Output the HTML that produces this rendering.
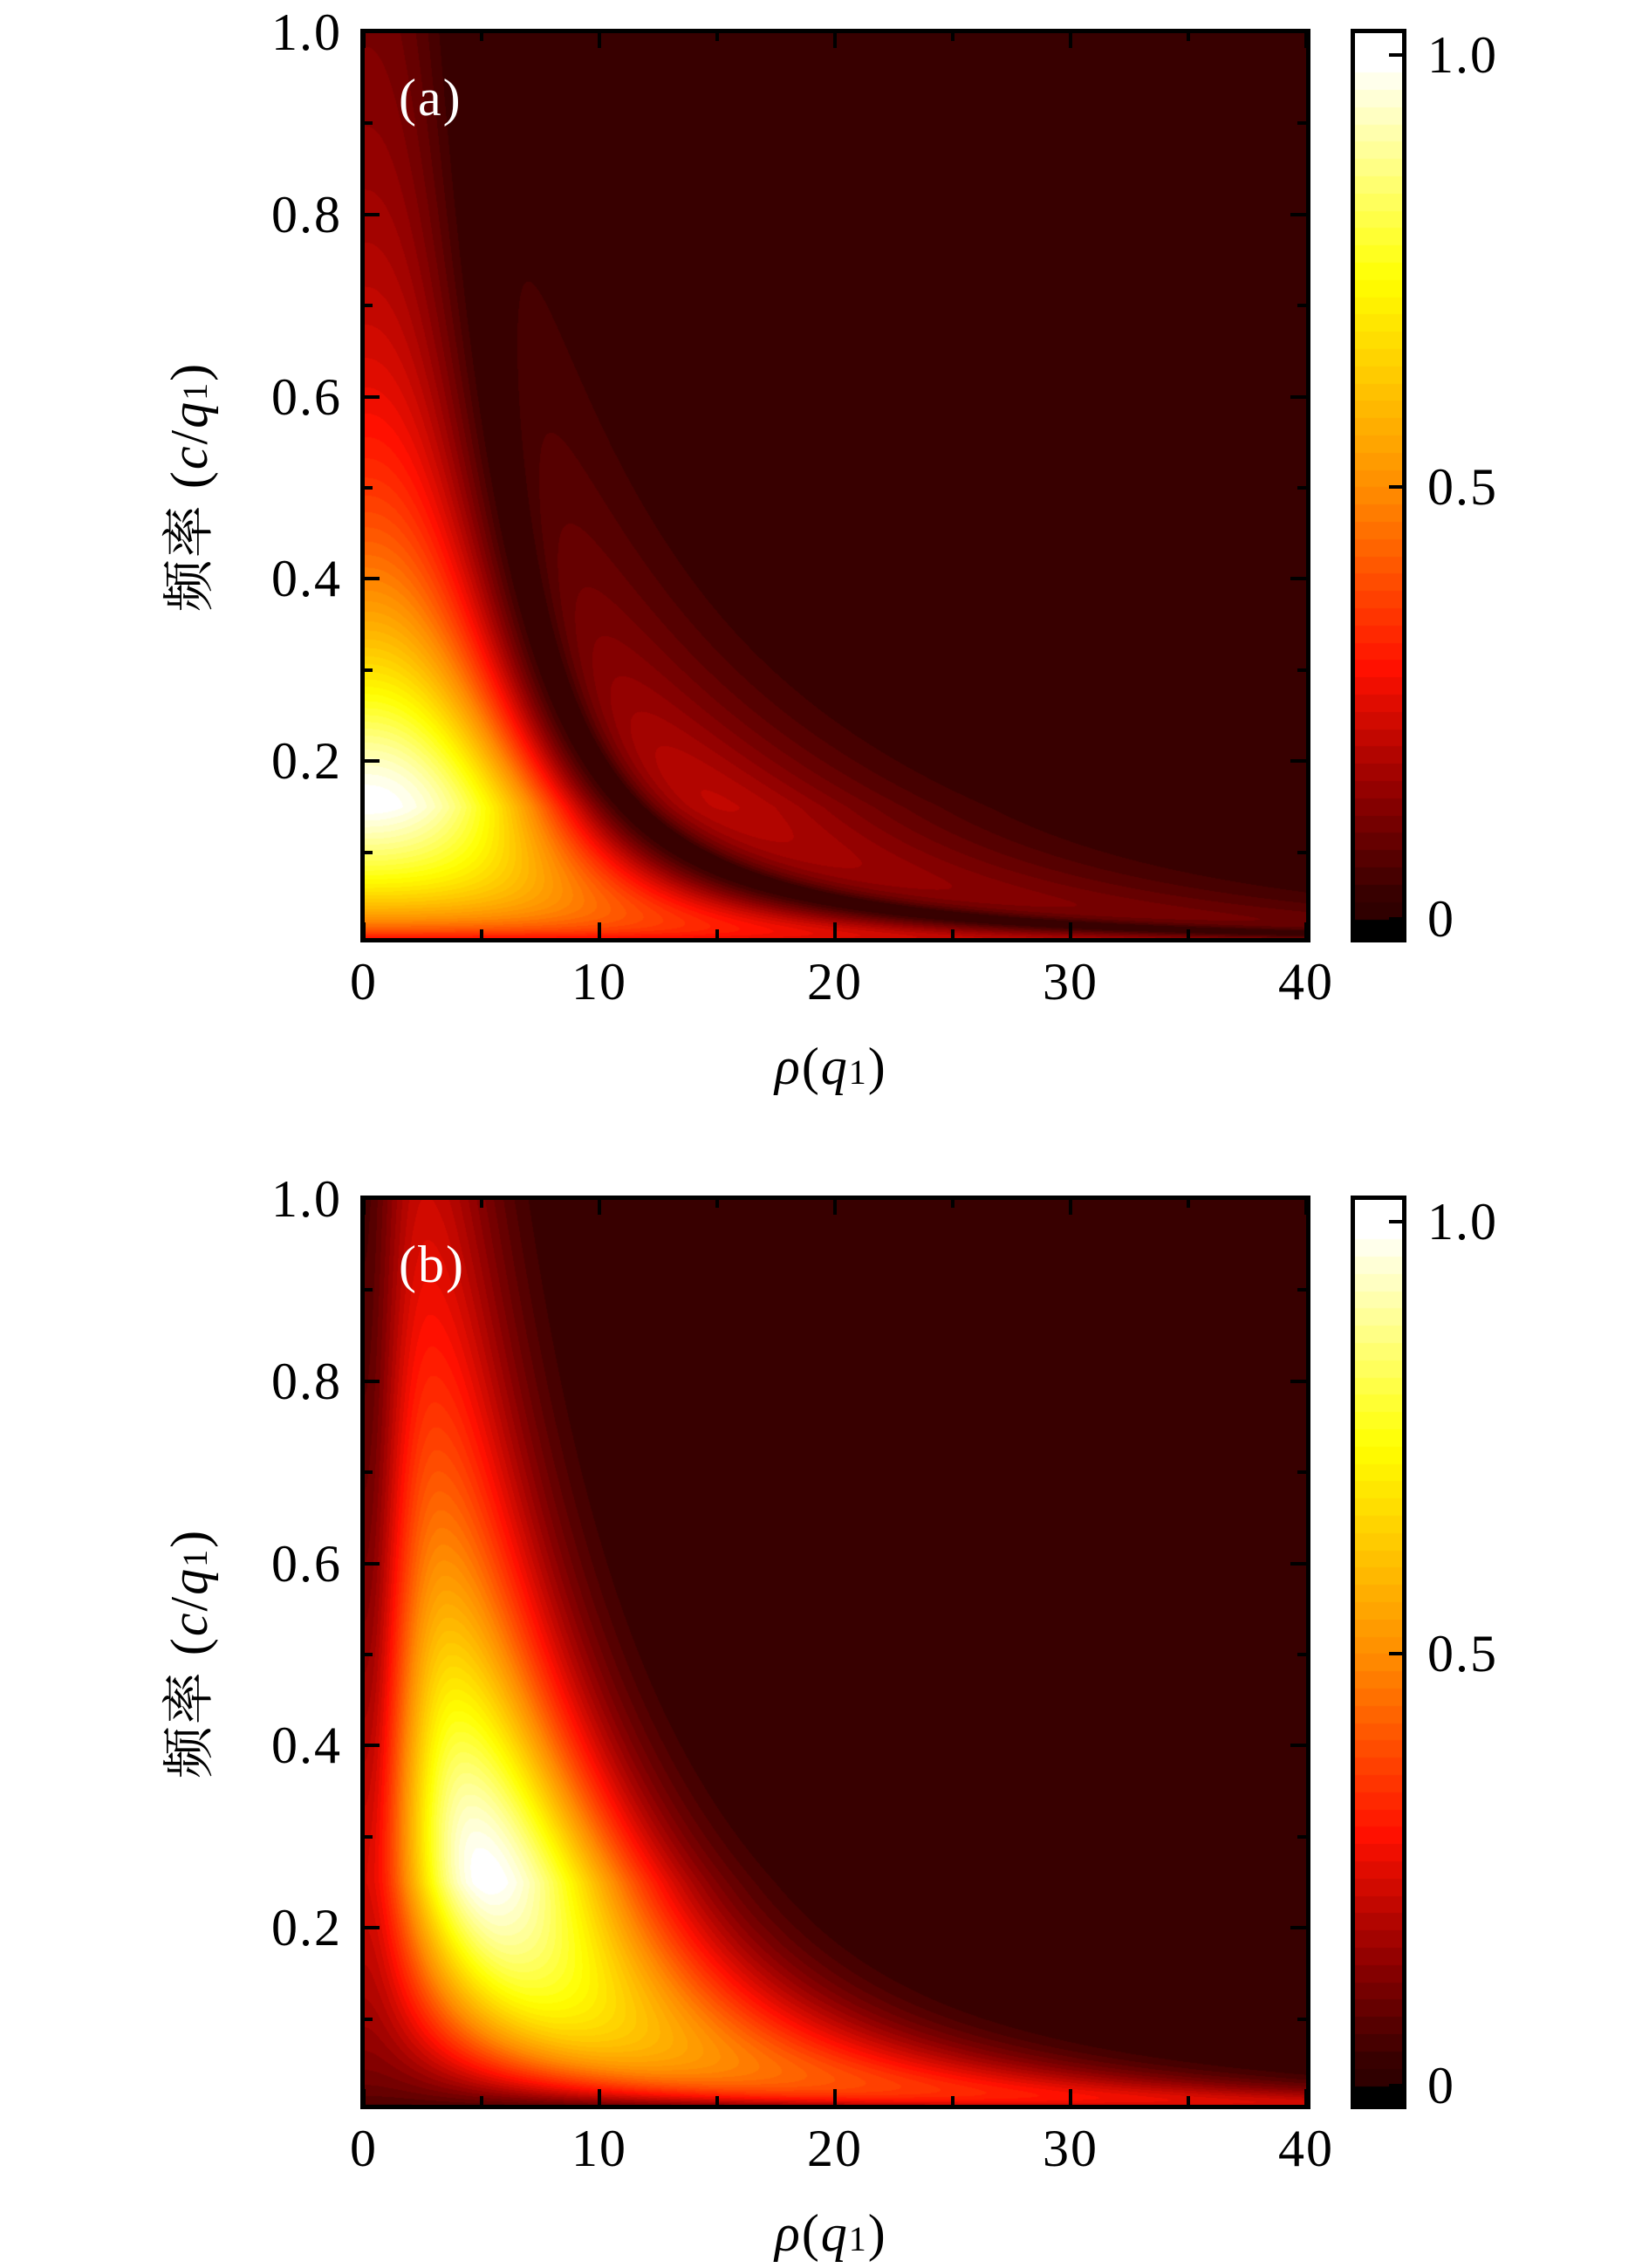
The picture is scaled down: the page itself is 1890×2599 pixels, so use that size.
<!DOCTYPE html>
<html><head><meta charset="utf-8"><style>
html,body{margin:0;padding:0;background:#fff;}
body{width:1890px;height:2599px;position:relative;overflow:hidden;font-family:"Liberation Serif","Noto Serif CJK SC",serif;}
canvas{position:absolute;}
.t{position:absolute;font-size:60px;line-height:1;color:#000;white-space:nowrap;letter-spacing:2px;}
.frame{position:absolute;border:5px solid #000;box-sizing:border-box;}
.tick{position:absolute;background:#000;}
</style></head><body>
<canvas id="pa" width="1080" height="1038" style="left:417px;top:37px"></canvas>
<canvas id="pb" width="1080" height="1038" style="left:417px;top:1374px"></canvas>
<canvas id="ca" width="56" height="1038" style="left:1552px;top:37px"></canvas>
<canvas id="cb" width="56" height="1038" style="left:1552px;top:1374px"></canvas>
<div id="ov"></div>
<script>
const stops=[[0,[0,0,0]],[0.03,[48,0,0]],[0.15,[140,0,0]],[0.3,[255,16,0]],[0.5,[255,136,0]],[0.75,[255,255,0]],[1,[255,255,255]]];
function cmap(t){t=Math.max(0,Math.min(1,t));for(let i=1;i<stops.length;i++){if(t<=stops[i][0]){const a=stops[i-1],b=stops[i];const s=(t-a[0])/(b[0]-a[0]);return [0,1,2].map(k=>a[1][k]+(b[1][k]-a[1][k])*s);}}return [255,255,255];}
const L=50;function q(v){v=Math.max(0.03,Math.min(1,v));return Math.ceil(v*L)/L;}
function I0f(x,p){return x<1?Math.pow(x,0.4):Math.pow(2*x/(1+x*x),p);}
function Ia(r,f){const I0=I0f(f/0.15,1.75);const u=r*Math.sqrt(f)/4.5;let g;
 if(u<1){g=Math.pow(1-Math.pow(u,2.3),0.9);}else{const w=(u-1)/0.32;g=0.45*Math.sqrt(w*Math.exp(1-w));}
 return I0*g*g;}
function Ib(r,f){const I0=I0f(f/0.25,2);const u2=r*r*f/7.29;const base=(u2+0.05)/1.05*Math.exp(1-u2);const h=u2<1?Math.pow(base,0.7):Math.pow(base,0.45);return I0*Math.min(1,h);}
function draw(id,fn){const c=document.getElementById(id),ctx=c.getContext('2d');const W=c.width,H=c.height;const im=ctx.createImageData(W,H);for(let y=0;y<H;y++){const f=1-(y/H)*(1-0.006);for(let xx=0;xx<W;xx++){const r=xx/W*40;const v=q(fn(r,f));const col=cmap(v);const o=(y*W+xx)*4;im.data[o]=col[0];im.data[o+1]=col[1];im.data[o+2]=col[2];im.data[o+3]=255;}}ctx.putImageData(im,0,0);}
draw('pa',Ia);draw('pb',Ib);
function cbar(id){const c=document.getElementById(id),ctx=c.getContext('2d');for(let y=0;y<c.height;y++){const v=(1053-37-y)/990;let col;if(v<0.0)col=[0,0,0];else col=cmap(Math.max(0.03,Math.ceil(v*L)/L));ctx.fillStyle=`rgb(${col.map(Math.round).join(',')})`;ctx.fillRect(0,y,c.width,1);}}
cbar('ca');cbar('cb');
let h='';
function panel(dy,lab){
 h+=`<div class="frame" style="left:413px;top:${dy+33}px;width:1089px;height:1047px"></div>`;
 h+=`<div class="frame" style="left:1548px;top:${dy+33}px;width:64px;height:1047px"></div>`;
 const xs=[0,10,20,30,40];
 for(let i=0;i<=8;i++){const x=417+i*135;const len=i%2?10:18;
  h+=`<div class="tick" style="left:${x-2}px;top:${dy+1075-len}px;width:4px;height:${len}px"></div>`;
  h+=`<div class="tick" style="left:${x-2}px;top:${dy+37}px;width:4px;height:${len}px"></div>`;}
 xs.forEach((v,i)=>{h+=`<div class="t" style="left:${417+i*270-70}px;width:140px;text-align:center;top:${dy+1095}px">${v}</div>`;});
 for(let k=1;k<=9;k++){const yy=dy+1081-k*104.4;const len=k%2?10:18;
  h+=`<div class="tick" style="left:417px;top:${yy-2}px;width:${len}px;height:4px"></div>`;
  h+=`<div class="tick" style="left:${1497-len}px;top:${yy-2}px;width:${len}px;height:4px"></div>`;}
 ['0.2','0.4','0.6','0.8','1.0'].forEach((s,i)=>{const yy=dy+1081-(i+1)*208.8;h+=`<div class="t" style="left:260px;width:132px;text-align:right;top:${yy-30}px">${s}</div>`;});
 [[0,'0',1053],[0.5,'0.5',558],[1,'1.0',63]].forEach(a=>{h+=`<div class="tick" style="left:1592px;top:${dy+a[2]-2}px;width:16px;height:4px"></div>`;h+=`<div class="t" style="left:1636px;top:${dy+a[2]-30}px">${a[1]}</div>`;});
 h+=`<div class="t" style="left:888px;top:${dy+1192}px"><i>ρ</i>(<i>q</i><span style="font-size:40px">1</span>)</div>`;
 h+=`<div class="t" style="left:217px;top:${dy+558}px;transform:translate(-50%,-50%) rotate(-90deg)">频率 (<i>c</i>/<i>q</i><span style="font-size:40px">1</span>)</div>`;
 h+=`<div class="t" style="left:457px;top:${dy+82}px;color:#fff">${lab}</div>`;
}
panel(0,'(a)');panel(1337,'(b)');
document.getElementById('ov').innerHTML=h;
</script>
</body></html>
